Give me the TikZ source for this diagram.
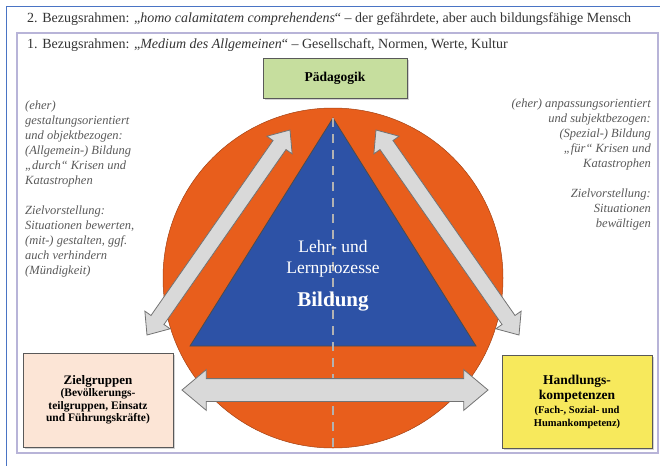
\documentclass[tikz,border=0pt]{standalone}
\usepackage{fontspec}
\setmainfont{Liberation Serif}
\usetikzlibrary{shapes.arrows,shadows}
\definecolor{frameblue}{HTML}{4A74C4}
\definecolor{framelav}{HTML}{B8B4D8}
\definecolor{discorange}{HTML}{E85E1C}
\definecolor{triblue}{HTML}{2D52A6}
\definecolor{arrowgray}{HTML}{D9D9D9}
\definecolor{boxgreen}{HTML}{C6DE9E}
\definecolor{boxpeach}{HTML}{FCE5D6}
\definecolor{boxyellow}{HTML}{F7E95C}
\begin{document}
\begin{tikzpicture}[x=1pt,y=-1pt,
  box/.style={draw=black!65,line width=0.8pt,inner sep=2pt,align=center,
    drop shadow={shadow xshift=2pt,shadow yshift=-2pt,opacity=0.35}},
  dblarrow/.style={double arrow,draw=black!55,fill=arrowgray,line width=0.8pt,
    inner xsep=0pt,inner ysep=7.5pt,double arrow head extend=7.5pt,
    double arrow tip angle=80},
  sidetext/.style={font=\itshape\fontsize{12.5}{15}\selectfont,text=black!65,inner sep=0pt},
  headtext/.style={font=\fontsize{14}{15}\selectfont,text=black!80,inner sep=0pt,anchor=west}
]
\useasboundingbox (0,0) rectangle (662,466);
% frames
\draw[frameblue,line width=1pt] (6,466) -- (6,6) -- (660,6);
\draw[framelav,line width=1.6pt] (17,33) rectangle (658,453);
\node[headtext] (ref2) at (27,19) {2. Bezugsrahmen: „\textit{homo calamitatem comprehendens}“ – der gefährdete, aber auch bildungsfähige Mensch};
\node[headtext] (ref1) at (27,45) {1. Bezugsrahmen: „\textit{Medium des Allgemeinen}“ – Gesellschaft, Normen, Werte, Kultur};

% disc and triangle
\node[circle,fill=discorange,draw=discorange!70!black,line width=0.5pt,minimum size=340pt,inner sep=0pt] (disc) at (333,278) {};
\coordinate (apex) at (333,118);
\coordinate (left) at (190,346);
\coordinate (right) at (476,346);
\draw[fill=triblue,draw=black!70,line width=0.8pt] (apex) -- (left) -- (right) -- cycle;
\coordinate (axis) at (333,452);
\draw[black!30,line width=1.5pt,dash pattern=on 9pt off 7pt] (apex) -- (axis);
\node[text=white,align=center,font=\fontsize{17.5}{21}\selectfont] (lehr) at (333,259) {Lehr- und\\Lernprozesse};
\node[text=white,font=\bfseries\fontsize{21}{24}\selectfont] (bildung) at (333,302) {Bildung};

% arrows
\node[dblarrow,minimum height=250pt,rotate=55.1] (arrL) at (218.5,232.5) {};
\node[dblarrow,minimum height=250pt,rotate=-55.1] (arrR) at (447.5,232.5) {};
\node[dblarrow,minimum height=306pt,inner ysep=11pt,double arrow head extend=9pt] (arrH) at (335,390) {};

% boxes
\node[box,fill=boxgreen,minimum width=144pt,minimum height=40pt,font=\bfseries\fontsize{13.5}{15}\selectfont] (paed) at (335,78) {Pädagogik};
\node[box,fill=boxpeach,minimum width=150pt,minimum height=94pt,font=\bfseries\fontsize{11.5}{12.5}\selectfont] (ziel) at (98,400)
  {\fontsize{13}{13}\selectfont Zielgruppen\\(Bevölkerungs-\\teilgruppen, Einsatz\\und Führungskräfte)};
\node[box,fill=boxyellow,minimum width=150pt,minimum height=93pt,font=\bfseries\fontsize{13.5}{15}\selectfont] (hand) at (577,401.5)
  {Handlungs-\\kompetenzen\\[-1pt]{\fontsize{10.5}{11}\selectfont (Fach-, Sozial- und}\\[-2pt]{\fontsize{10.5}{11}\selectfont Humankompetenz)}};

% side texts
\node[sidetext,anchor=north west,align=left] (lefttext) at (25,101)
  {(eher)\\gestaltungsorientiert\\und objektbezogen:\\(Allgemein-) Bildung\\„durch“ Krisen und\\Katastrophen\\[15pt]Zielvorstellung:\\Situationen bewerten,\\(mit-) gestalten, ggf.\\auch verhindern\\(Mündigkeit)};
\node[sidetext,anchor=north east,align=right] (righttext) at (651,99)
  {(eher) anpassungsorientiert\\und subjektbezogen:\\(Spezial-) Bildung\\„für“ Krisen und\\Katastrophen\\[15pt]Zielvorstellung:\\Situationen\\bewältigen};
\end{tikzpicture}
\end{document}
